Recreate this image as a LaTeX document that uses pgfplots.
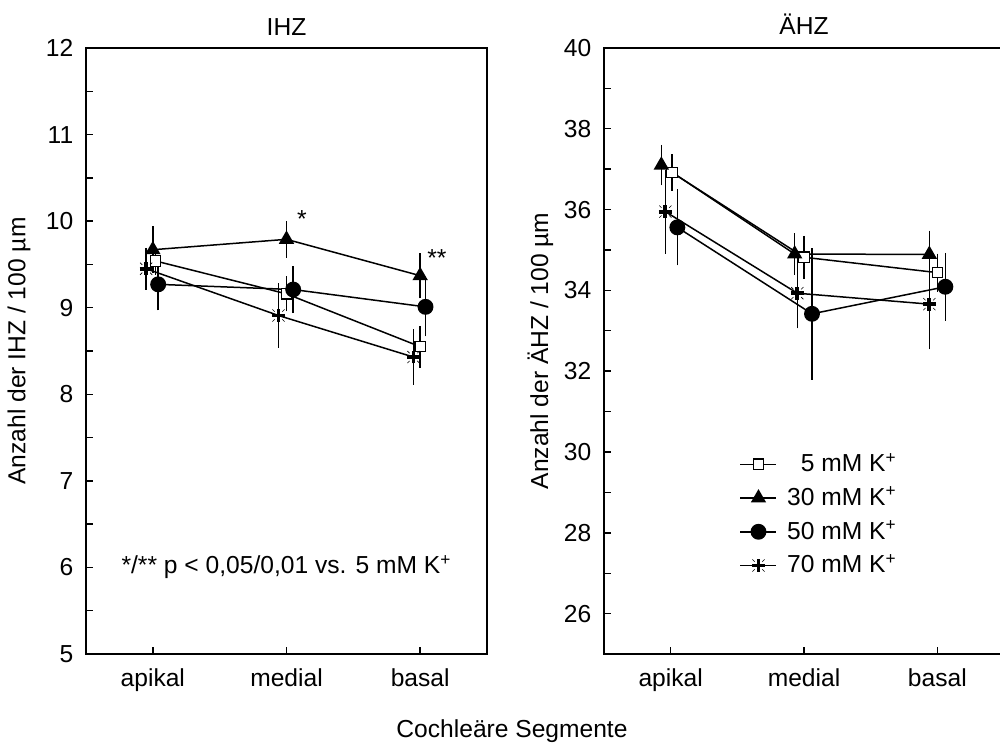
\documentclass[border=0pt]{standalone}
\usepackage{fontspec}
\setmainfont{Liberation Sans}
\usepackage{pgfplots}
\pgfplotsset{compat=1.18}
\usepackage{pgfplotstable}

% thick plus with four fine diagonal ticks (70 mM marker)
\pgfdeclareplotmark{kstar}{%
  \pgfsetbuttcap
  \pgfsetlinewidth{1.9pt}%
  \pgfpathmoveto{\pgfqpoint{-\pgfplotmarksize}{0pt}}%
  \pgfpathlineto{\pgfqpoint{\pgfplotmarksize}{0pt}}%
  \pgfpathmoveto{\pgfqpoint{0pt}{-\pgfplotmarksize}}%
  \pgfpathlineto{\pgfqpoint{0pt}{\pgfplotmarksize}}%
  \pgfusepathqstroke
  \pgfsetlinewidth{0.3pt}%
  \pgfpathmoveto{\pgfqpoint{0.6\pgfplotmarksize}{0.6\pgfplotmarksize}}%
  \pgfpathlineto{\pgfqpoint{0.95\pgfplotmarksize}{0.95\pgfplotmarksize}}%
  \pgfpathmoveto{\pgfqpoint{-0.6\pgfplotmarksize}{0.6\pgfplotmarksize}}%
  \pgfpathlineto{\pgfqpoint{-0.95\pgfplotmarksize}{0.95\pgfplotmarksize}}%
  \pgfpathmoveto{\pgfqpoint{0.6\pgfplotmarksize}{-0.6\pgfplotmarksize}}%
  \pgfpathlineto{\pgfqpoint{0.95\pgfplotmarksize}{-0.95\pgfplotmarksize}}%
  \pgfpathmoveto{\pgfqpoint{-0.6\pgfplotmarksize}{-0.6\pgfplotmarksize}}%
  \pgfpathlineto{\pgfqpoint{-0.95\pgfplotmarksize}{-0.95\pgfplotmarksize}}%
  \pgfusepathqstroke
}

% IHZ counts per 100 um: x (segment, slightly offset), mean, error
\pgfplotstableread{
x     y     e
1.02  9.54  0.12
2.00  9.16  0.16
3.00  8.55  0.20
}\ihzA
\pgfplotstableread{
x     y     e
1.00  9.67  0.23
2.00  9.79  0.17
3.00  9.37  0.22
}\ihzB
\pgfplotstableread{
x     y     e
1.04  9.27  0.26
2.05  9.21  0.23
3.04  9.01  0.30
}\ihzC
\pgfplotstableread{
x     y     e
0.95  9.45  0.20
1.94  8.91  0.33
2.95  8.43  0.28
}\ihzD

% AeHZ counts per 100 um
\pgfplotstableread{
x     y      e
1.01  36.92  0.36
2.00  34.82  0.44
3.00  34.44  0.38
}\ahzA
\pgfplotstableread{
x     y      e
0.93  37.10  0.41
1.93  34.90  0.42
2.94  34.89  0.50
}\ahzB
\pgfplotstableread{
x     y      e
1.05  35.56  0.85
2.06  33.42  1.54
3.06  34.09  0.75
}\ahzC
\pgfplotstableread{
x     y      e
0.96  35.95  0.95
1.95  33.93  0.78
2.94  33.66  1.03
}\ahzD

\pgfplotsset{
  panel/.style={
    scale only axis,
    height=303pt,
    axis line style={line width=0.8pt},
    tick align=inside, tick pos=left,
    major tick length=3.5pt, minor tick length=3.5pt,
    every tick/.style={line width=0.7pt, black},
    xmin=0.5, xmax=3.5, xtick={1,2,3},
    xticklabels={apikal,medial,basal},
    xticklabel style={anchor=base, yshift=-16pt, inner sep=0pt},
    yticklabel style={anchor=east, inner sep=0pt, xshift=-6.2pt},
    /pgf/number format/assume math mode=true,
    every axis title shift=0pt,
    title style={at={(0.5,1)}, anchor=base, yshift=6.5pt, inner sep=0pt},
    legend image code/.code={%
      \draw[mark repeat=2, mark phase=2, #1]
        plot coordinates {(0pt,0pt) (9pt,0pt) (18pt,0pt)};},
  },
  ser/.style={black, line width=0.75pt, solid,
    error bars/y dir=both, error bars/y explicit,
    error bars/error bar style={line width=0.75pt, solid},
    error bars/error mark options={mark size=1.8pt, line width=0.75pt, solid}},
  sA/.style={ser, mark=square*, mark size=2.6pt,
    mark options={fill=white, draw=black, line width=0.6pt, solid}},
  sB/.style={ser, mark=triangle*, mark size=3.7pt,
    mark options={fill=black, draw=black, solid}},
  sC/.style={ser, mark=*, mark size=3.6pt,
    mark options={fill=black, draw=black, solid}},
  sD/.style={ser, mark=kstar, mark size=3.2pt,
    mark options={draw=black, solid}},
}

\begin{document}
\fontsize{12.3pt}{14.8pt}\selectfont
\begin{tikzpicture}[font=\fontsize{12.3pt}{14.8pt}\selectfont,
                    trim left=0pt, trim right=500pt]

% inner hair cells
\begin{axis}[panel,
  at={(43pt,47.5pt)}, anchor=south west,
  width=200.5pt,
  ymin=5, ymax=12, ytick={5,...,12},
  minor ytick={5.5,6.5,...,11.5},
  title={IHZ},
  ylabel={Anzahl der IHZ / 100 µm},
  ylabel style={at={(axis description cs:-0.167,0.5)}, anchor=center, inner sep=0pt},
]
\addplot[sA] table[x=x, y=y, y error=e] {\ihzA};
\addplot[sB] table[x=x, y=y, y error=e] {\ihzB};
\addplot[sC] table[x=x, y=y, y error=e] {\ihzC};
\addplot[sD] table[x=x, y=y, y error=e] {\ihzD};
\node[anchor=base] at (axis cs:2.116,9.93) {*};
\node[anchor=base] at (axis cs:3.125,9.48) {**};
\node[anchor=center] at (rel axis cs:0.5,0.1436)
  {*/** p < 0,05/0,01 vs. 5 mM K\textsuperscript{+}};
\end{axis}

% outer hair cells (frame runs past the right edge of the page)
\begin{axis}[panel,
  at={(302pt,47.5pt)}, anchor=south west,
  width=206pt, xmax=3.59,
  ymin=25, ymax=40, ytick={26,28,...,40},
  minor ytick={27,29,...,39},
  title={ÄHZ},
  title style={at={(axis cs:2,40)}},
  ylabel={Anzahl der ÄHZ / 100 µm},
  ylabel style={at={(axis description cs:-0.1544,0.5)}, anchor=center, inner sep=0pt},
  legend style={draw=none, fill=none, at={(axis cs:1.47,30.18)},
    anchor=north west, row sep=1.7pt, legend cell align=left,
    /tikz/every odd column/.append style={column sep=3pt}},
]
\addplot[sA] table[x=x, y=y, y error=e] {\ahzA};
\addlegendentry{\phantom{3}5 mM K\textsuperscript{+}}
\addplot[sB] table[x=x, y=y, y error=e] {\ahzB};
\addlegendentry{30 mM K\textsuperscript{+}}
\addplot[sC] table[x=x, y=y, y error=e] {\ahzC};
\addlegendentry{50 mM K\textsuperscript{+}}
\addplot[sD] table[x=x, y=y, y error=e] {\ahzD};
\addlegendentry{70 mM K\textsuperscript{+}}
\end{axis}

\node[anchor=base] at (256pt,6pt) {Cochleäre Segmente};
\path (0pt,0pt) (0pt,374.5pt);
\end{tikzpicture}
\end{document}
